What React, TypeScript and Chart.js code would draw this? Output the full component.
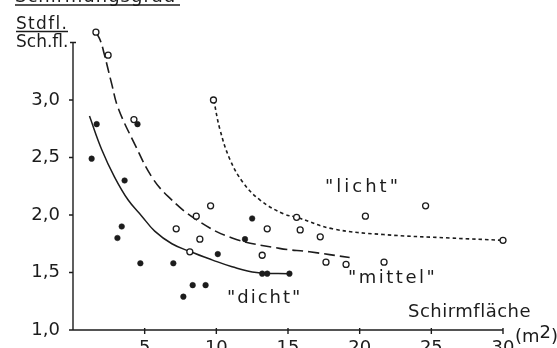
import React, { useEffect, useRef } from 'react';
import { Chart, registerables } from 'chart.js';

Chart.register(...registerables);

// "dicht" – filled points
const dichtX = [1.3, 1.65, 3.1, 3.4, 3.6, 4.5, 4.7, 7.0, 7.7, 8.35, 9.25, 10.1, 12.0, 12.5, 13.2, 13.55, 15.1];
const dichtY = [2.49, 2.79, 1.8, 1.9, 2.3, 2.79, 1.58, 1.58, 1.29, 1.39, 1.39, 1.66, 1.79, 1.97, 1.49, 1.49, 1.49];

// "mittel" / "licht" – open points
const openX = [1.6, 2.45, 4.25, 7.2, 8.15, 8.6, 8.85, 9.6, 9.8, 13.2, 13.55, 15.6, 15.85, 17.25, 17.65, 19.05, 20.4, 21.7, 24.6, 30.0];
const openY = [3.59, 3.39, 2.83, 1.88, 1.68, 1.99, 1.79, 2.08, 3.0, 1.65, 1.88, 1.98, 1.87, 1.81, 1.59, 1.57, 1.99, 1.59, 2.08, 1.78];

// fitted curves
const curveDichtX = [1.15, 2.0, 2.9, 3.85, 4.8, 5.7, 6.9, 8.2, 9.7, 11.1, 12.8, 15.1];
const curveDichtY = [2.86, 2.57, 2.33, 2.13, 1.99, 1.86, 1.75, 1.68, 1.61, 1.55, 1.5, 1.49];

const curveMittelX = [1.6, 1.9, 2.2, 2.7, 3.15, 4.33, 5.5, 6.65, 8.6, 11.1, 14.4, 16.5, 19.3];
const curveMittelY = [3.59, 3.52, 3.39, 3.14, 2.93, 2.61, 2.33, 2.16, 1.96, 1.8, 1.71, 1.68, 1.63];

const curveLichtX = [9.82, 10.26, 10.96, 11.88, 13.05, 14.68, 15.6, 18.1, 21.65, 26.3, 30.0];
const curveLichtY = [3.0, 2.74, 2.48, 2.28, 2.13, 2.01, 1.98, 1.88, 1.83, 1.8, 1.78];

const xTicks = [5, 10, 15, 20, 25, 30];
const yTicks = [1.0, 1.5, 2.0, 2.5, 3.0];

const INK = '#1c1c1c';
const FONT = '"DejaVu Sans", sans-serif';

const pts = (xs: number[], ys: number[]) => xs.map((x, i) => ({ x, y: ys[i] }));

export default function App() {
  const ref = useRef<HTMLCanvasElement>(null);

  useEffect(() => {
    document.body.style.margin = '0';
    const canvas = ref.current;
    if (!canvas) return;

    const annot = {
      id: 'annot',
      afterDraw(chart: any) {
        const { ctx } = chart;
        const xs = chart.scales.x;
        const ys = chart.scales.y;
        ctx.save();
        ctx.strokeStyle = INK;
        ctx.fillStyle = INK;
        ctx.lineWidth = 1.4;
        const x0 = xs.getPixelForValue(0);
        const x30 = xs.getPixelForValue(30);
        const y1 = ys.getPixelForValue(1);
        const y35 = ys.getPixelForValue(3.5);
        ctx.beginPath();
        ctx.moveTo(x0, y35);
        ctx.lineTo(x0, y1);
        ctx.lineTo(x30, y1);
        ctx.moveTo(x0 - 3, y35);
        ctx.lineTo(x0 + 3, y35);
        yTicks.forEach((v) => {
          const p = ys.getPixelForValue(v);
          ctx.moveTo(x0 - 4, p);
          ctx.lineTo(x0, p);
        });
        xTicks.forEach((v) => {
          const p = xs.getPixelForValue(v);
          ctx.moveTo(p, y1 - 2);
          ctx.lineTo(p, y1 + 4);
        });
        ctx.stroke();

        const text = (t: string, x: number, y: number, size: number, spacing: number, baseline = 'middle') => {
          ctx.font = `${size}px ${FONT}`;
          (ctx as any).letterSpacing = `${spacing}px`;
          ctx.textAlign = 'left';
          ctx.textBaseline = baseline;
          ctx.fillText(t, x, y);
          const w = ctx.measureText(t).width;
          (ctx as any).letterSpacing = '0px';
          return w;
        };

        // title (cut at the top edge)
        text('Schirmungsgrad', 15, 2, 18, 1, 'alphabetic');
        ctx.lineWidth = 1.5;
        ctx.beginPath();
        ctx.moveTo(15, 5);
        ctx.lineTo(180, 5);
        ctx.stroke();

        // y axis title
        text('Stdfl.', 16, 29, 17, 1.3, 'alphabetic');
        ctx.beginPath();
        ctx.moveTo(16, 31.5);
        ctx.lineTo(68, 31.5);
        ctx.stroke();
        text('Sch.fl.', 16, 47, 17, 0, 'alphabetic');

        // group labels
        text('"licht"', 325, 187, 18, 3);
        text('"mittel"', 348, 278, 18, 2.5);
        text('"dicht"', 227, 298, 18, 2);

        // x axis title
        text('Schirmfläche', 408, 312, 18, 0.5);
        let cx = 515;
        cx += text('(m', cx, 337, 18, 0);
        cx += text('2', cx, 333, 18, 0);
        text(')', cx, 337, 18, 0);
        ctx.restore();
      },
    };

    const chart = new Chart(canvas, {
      type: 'scatter',
      data: {
        datasets: [
          {
            label: 'offen',
            data: pts(openX, openY),
            pointRadius: 3,
            pointBorderWidth: 1.3,
            pointBackgroundColor: '#ffffff',
            pointBorderColor: INK,
            showLine: false,
          },
          {
            label: 'dicht',
            data: pts(dichtX, dichtY),
            pointRadius: 2.8,
            pointBorderWidth: 0.5,
            pointBackgroundColor: INK,
            pointBorderColor: INK,
            showLine: false,
          },
          {
            label: 'Kurve dicht',
            data: pts(curveDichtX, curveDichtY),
            showLine: true,
            pointRadius: 0,
            borderColor: INK,
            borderWidth: 1.5,
            tension: 0.4,
          },
          {
            label: 'Kurve mittel',
            data: pts(curveMittelX, curveMittelY),
            showLine: true,
            pointRadius: 0,
            borderColor: INK,
            borderWidth: 1.6,
            borderDash: [11, 5],
            tension: 0.4,
          },
          {
            label: 'Kurve licht',
            data: pts(curveLichtX, curveLichtY),
            showLine: true,
            pointRadius: 0,
            borderColor: INK,
            borderWidth: 1.6,
            borderDash: [3.5, 3],
            tension: 0.4,
          },
        ],
      },
      options: {
        animation: false,
        responsive: false,
        clip: false,
        layout: { padding: { top: 31, right: 54, left: 0, bottom: 0 } },
        plugins: { legend: { display: false }, tooltip: { enabled: false } },
        scales: {
          x: {
            type: 'linear',
            min: 0,
            max: 30,
            border: { display: false },
            grid: { display: false },
            afterBuildTicks: (s: any) => {
              s.ticks = xTicks.map((v) => ({ value: v }));
            },
            afterFit: (s: any) => {
              s.height = 18;
            },
            ticks: {
              color: INK,
              font: { family: FONT, size: 18 },
              padding: 0,
              maxRotation: 0,
              autoSkip: false,
              callback: (v: any) => String(v),
            },
          },
          y: {
            type: 'linear',
            min: 1,
            max: 3.6,
            border: { display: false },
            grid: { display: false },
            afterBuildTicks: (s: any) => {
              s.ticks = yTicks.map((v) => ({ value: v }));
            },
            afterFit: (s: any) => {
              s.width = 73;
            },
            ticks: {
              color: INK,
              font: { family: FONT, size: 18 },
              padding: 5,
              autoSkip: false,
              callback: (v: any) => Number(v).toFixed(1).replace('.', ','),
            },
          },
        },
      },
      plugins: [annot],
    } as any);

    return () => chart.destroy();
  }, []);

  return (
    <div style={{ width: 557, height: 348, background: '#fff' }}>
      <canvas ref={ref} width={557} height={348} style={{ display: 'block' }} />
    </div>
  );
}
